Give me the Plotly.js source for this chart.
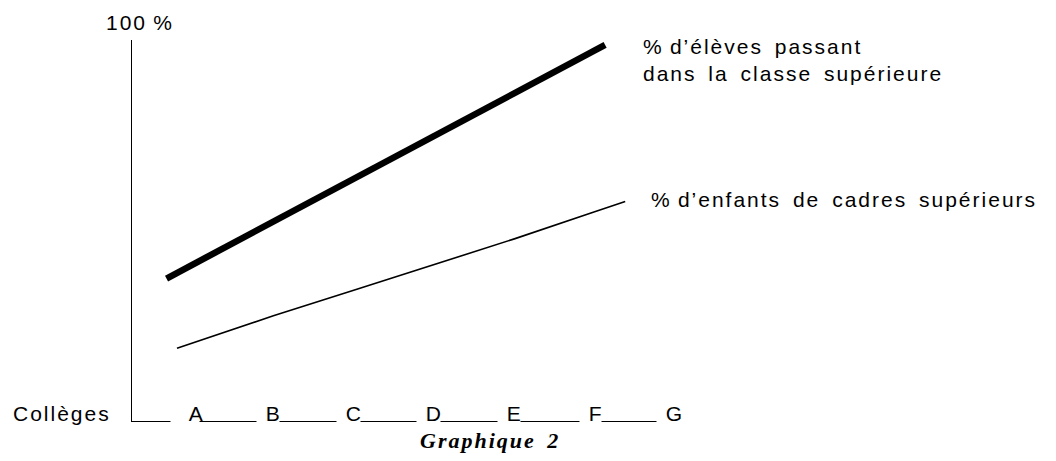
<!DOCTYPE html>
<html>
<head>
<meta charset="utf-8">
<script src="https://cdn.plot.ly/plotly-3.0.1.min.js"></script>
<style>
  html, body { margin: 0; padding: 0; background: #fff; }
  #chart { width: 1056px; height: 461px; }
  #chart text { letter-spacing: 2px; word-spacing: 4px; }
</style>
</head>
<body>
<div id="chart"></div>
<script>
// Categories (collèges) on the x axis, at positions 1..7
const categories = ["A", "B", "C", "D", "E", "F", "G"];
const categoryPos = [1, 2, 3, 4, 5, 6, 7];

// % d'élèves passant dans la classe supérieure (thick line)
const passX = [0.67, 1, 2, 3, 4, 5, 6, 6.13];
const passY = [37.4, 41.1, 52.3, 63.7, 75.1, 86.3, 97.4, 98.7];

// % d'enfants de cadres supérieurs (thin line)
const cadresX = [0.8, 1, 2, 3, 4, 5, 6, 6.38];
const cadresY = [19.1, 20.5, 27.6, 34.3, 41.0, 47.8, 54.9, 57.6];

const labelPass = "%\u2009d’élèves passant<br>dans la classe supérieure";
const labelCadres = "%\u2009d’enfants de cadres supérieurs";
const yTopLabel = "100\u2009%";
const xAxisName = "Collèges";
const caption = "Graphique 2";

const SANS = "Liberation Sans, Arial, Helvetica, sans-serif";
const SERIF = "Liberation Serif, Times New Roman, serif";
const FS = 21;

const traces = [
  {
    x: passX, y: passY, type: "scatter", mode: "lines",
    line: { color: "#000", width: 6.5 },
    hoverinfo: "skip", showlegend: false
  },
  {
    x: cadresX, y: cadresY, type: "scatter", mode: "lines",
    line: { color: "#000", width: 1.6 },
    hoverinfo: "skip", showlegend: false
  }
];

const annotations = [];
categories.forEach((c, i) => {
  const lead = i === 0 ? "\u00a0\u00a0" : "\u00a0";
  annotations.push({
    x: categoryPos[i], xref: "x", y: 0, yref: "paper",
    text: lead + c, showarrow: false, xanchor: "right", yanchor: "bottom",
    xshift: 7, yshift: -6, bgcolor: "#fff", borderpad: 1,
    font: { family: SANS, size: FS, color: "#000" }
  });
});
annotations.push({
  x: 0, xref: "paper", y: 0, yref: "paper",
  text: xAxisName, showarrow: false, xanchor: "right", yanchor: "bottom",
  xshift: -27, yshift: -6,
  font: { family: SANS, size: FS, color: "#000" }
});
annotations.push({
  x: 0, xref: "paper", y: 1, yref: "paper",
  text: yTopLabel, showarrow: false, xanchor: "center", yanchor: "bottom",
  xshift: 8, yshift: 4,
  font: { family: SANS, size: FS, color: "#000" }
});
annotations.push({
  x: passX[passX.length - 1], xref: "x", y: passY[passY.length - 1], yref: "y",
  text: labelPass, showarrow: false, xanchor: "left", yanchor: "top",
  align: "left", xshift: 36, yshift: 12,
  font: { family: SANS, size: FS, color: "#000" }
});
annotations.push({
  x: cadresX[cadresX.length - 1], xref: "x", y: cadresY[cadresY.length - 1], yref: "y",
  text: labelCadres, showarrow: false, xanchor: "left", yanchor: "middle",
  align: "left", xshift: 24, yshift: 2,
  font: { family: SANS, size: FS, color: "#000" }
});
annotations.push({
  x: 0.659, xref: "paper", y: 0, yref: "paper",
  text: caption, showarrow: false, xanchor: "center", yanchor: "middle",
  yshift: -19,
  font: { family: SERIF, size: 22, color: "#000", weight: "bold", style: "italic" }
});

const layout = {
  width: 1056, height: 461,
  paper_bgcolor: "#fff", plot_bgcolor: "#fff",
  margin: { l: 132, r: 381, t: 40, b: 40, pad: 0 },
  showlegend: false,
  xaxis: {
    range: [0.24, 7], showline: true, linecolor: "#000", linewidth: 1.3,
    showgrid: false, zeroline: false, showticklabels: false, ticks: "",
    fixedrange: true
  },
  yaxis: {
    range: [0, 100], showline: true, linecolor: "#000", linewidth: 1.3,
    showgrid: false, zeroline: false, showticklabels: false, ticks: "",
    fixedrange: true
  },
  annotations: annotations
};

Plotly.newPlot("chart", traces, layout, { staticPlot: true, displayModeBar: false });
</script>
</body>
</html>
